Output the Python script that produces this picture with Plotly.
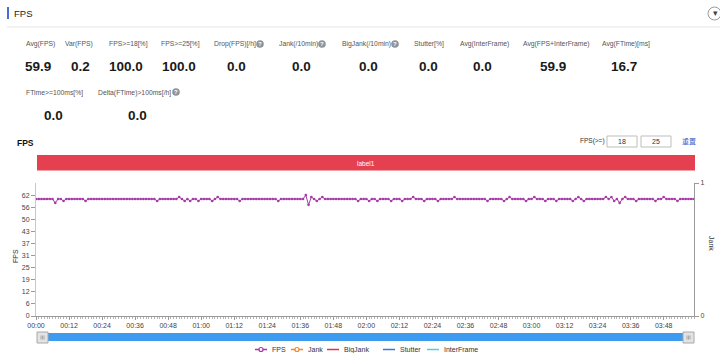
import plotly.graph_objects as go

# ---------------- data ----------------
seconds = list(range(240))
fps = [
    60, 60, 60, 60, 60, 60, 60, 58, 60, 60, 59, 60, 60, 60, 60, 60, 60, 60, 59, 60,
    60, 60, 60, 60, 60, 60, 60, 60, 60, 60, 60, 60, 60, 60, 60, 60, 60, 60, 60, 60,
    60, 60, 60, 60, 59, 60, 60, 60, 60, 60, 60, 60, 61, 60, 59, 60, 59, 60, 60, 59,
    60, 60, 60, 60, 59, 60, 61, 60, 60, 60, 60, 60, 60, 60, 59, 60, 60, 60, 60, 60,
    60, 60, 60, 60, 60, 60, 60, 60, 59, 60, 60, 60, 60, 60, 60, 60, 60, 60, 62, 57,
    61, 60, 59, 60, 61, 60, 60, 60, 60, 60, 60, 60, 60, 60, 60, 60, 60, 59, 60, 60,
    60, 59, 60, 60, 59, 60, 60, 60, 60, 59, 60, 60, 60, 59, 60, 60, 60, 61, 60, 60,
    60, 59, 60, 60, 60, 60, 59, 60, 60, 60, 60, 60, 61, 60, 60, 60, 60, 60, 60, 60,
    60, 60, 60, 60, 59, 60, 60, 60, 60, 60, 59, 60, 61, 60, 60, 60, 60, 60, 59, 60,
    60, 61, 60, 60, 60, 59, 60, 60, 60, 59, 60, 60, 60, 60, 60, 59, 60, 61, 60, 59,
    60, 60, 60, 60, 60, 60, 60, 61, 60, 61, 59, 60, 58, 60, 61, 60, 60, 60, 59, 60,
    60, 60, 60, 60, 60, 59, 60, 60, 61, 60, 60, 60, 60, 59, 60, 60, 60, 60, 60, 60,
]
x_tick_vals = [0, 12, 24, 36, 48, 60, 72, 84, 96, 108, 120, 132, 144, 156, 168, 180, 192, 204, 216, 228]
x_tick_text = ["00:00", "00:12", "00:24", "00:36", "00:48", "01:00", "01:12", "01:24", "01:36", "01:48",
               "02:00", "02:12", "02:24", "02:36", "02:48", "03:00", "03:12", "03:24", "03:36", "03:48"]
y_tick_vals = [0, 6.2, 12.4, 18.6, 24.8, 31, 37.2, 43.4, 49.6, 55.8, 62]
y_tick_text = ["0", "6", "12", "19", "25", "31", "37", "43", "50", "56", "62"]

series_names = ["FPS", "Jank", "BigJank", "Stutter", "InterFrame"]
series_colors = ["#a63aa6", "#f0892b", "#d9364d", "#3b78d8", "#52cfd8"]

stat_labels_1 = ["Avg(FPS)", "Var(FPS)", "FPS>=18[%]", "FPS>=25[%]", "Drop(FPS)[/h]", "Jank(/10min)",
                 "BigJank(/10min)", "Stutter[%]", "Avg(InterFrame)", "Avg(FPS+InterFrame)", "Avg(FTime)[ms]"]
stat_values_1 = ["59.9", "0.2", "100.0", "100.0", "0.0", "0.0", "0.0", "0.0", "0.0", "59.9", "16.7"]
stat_labels_2 = ["FTime>=100ms[%]", "Delta(FTime)>100ms[/h]"]
stat_values_2 = ["0.0", "0.0"]

# ---------------- layout helpers (pixel -> paper) ----------------
W, H = 720, 353
PL, PR, PT, PB = 36, 694, 183, 316


def px(x):
    return (x - PL) / (PR - PL)


def py(y):
    return (PB - y) / (PB - PT)


FONT = "Liberation Sans, Arial, Noto Sans CJK SC, sans-serif"
LBL = dict(family=FONT, size=6.8, color="#555555")
VAL = dict(family=FONT, size=13.5, color="#1a1a1a", weight="bold")

fig = go.Figure()

fig.add_trace(go.Scatter(
    x=seconds, y=fps, name=series_names[0], mode="lines+markers",
    line=dict(color=series_colors[0], width=1),
    marker=dict(color=series_colors[0], size=2.6),
))

annotations = []
shapes = []


def text(x, y, s, font, xanchor="left", angle=0):
    annotations.append(dict(x=px(x), y=py(y), xref="paper", yref="paper", text=s, showarrow=False,
                            xanchor=xanchor, yanchor="middle", font=font, textangle=angle))


def rect(x0, y0, x1, y1, fill, line=None, lw=0, typ="rect"):
    shapes.append(dict(type=typ, xref="paper", yref="paper", x0=px(x0), x1=px(x1), y0=py(y1), y1=py(y0),
                       fillcolor=fill, line=dict(color=line or fill, width=lw), layer="above"))


def hline(x0, x1, y, color, width=1):
    shapes.append(dict(type="line", xref="paper", yref="paper", x0=px(x0), x1=px(x1), y0=py(y), y1=py(y),
                       line=dict(color=color, width=width)))


# header
rect(7, 7, 9, 19, "#4a6bd6")
text(12, 13, "FPS", dict(family=FONT, size=9.5, color="#222222"))
hline(7, 720, 27, "#e6e6e6")
rect(708, 7, 721, 20, "#ffffff", "#9a9a9a", 1, "circle")
text(715, 13, "▾", dict(family=FONT, size=9, color="#444444"), "center")

# stats row 1
lab_x1 = [24, 63, 107, 159, 212, 277, 340, 412, 458, 521, 600]
val_x1 = [38, 80, 126, 179, 237, 301, 369, 428, 482, 553, 624]
for lx, vx, l, v in zip(lab_x1, val_x1, stat_labels_1, stat_values_1):
    text(lx, 44, l, LBL)
    text(vx, 66, v, VAL, "center")
# stats row 2
lab_x2 = [24, 96]
val_x2 = [53, 137]
for lx, vx, l, v in zip(lab_x2, val_x2, stat_labels_2, stat_values_2):
    text(lx, 93, l, LBL)
    text(vx, 115, v, VAL, "center")
# help icons
for hx, hy in [(260, 44), (322, 44), (395, 44), (176, 92)]:
    rect(hx - 3.8, hy - 3.8, hx + 3.8, hy + 3.8, "#8e939c", typ="circle")
    text(hx, hy, "?", dict(family=FONT, size=6, color="#ffffff", weight="bold"), "center")

# chart subtitle + controls
text(15, 143, "FPS", dict(family=FONT, size=8.5, color="#111111", weight="bold"))
text(578, 141, "FPS(>=)", dict(family=FONT, size=6.5, color="#333333"))
rect(607, 136, 637, 147, "#ffffff", "#bdbdbd", 1)
rect(641, 136, 671, 147, "#ffffff", "#bdbdbd", 1)
text(622, 141.5, "18", dict(family=FONT, size=7, color="#333333"), "center")
text(656, 141.5, "25", dict(family=FONT, size=7, color="#333333"), "center")
text(680, 141, "重置", dict(family="Noto Sans CJK SC", size=7, color="#3a5bd0"))

# label bar
rect(37, 155, 695, 170.5, "#e5404f")
text(366, 163, "label1", dict(family=FONT, size=6.5, color="#ffffff"), "center")

# axis titles
text(15, 256, "FPS", dict(family=FONT, size=7, color="#333333"), "center", -90)
text(712, 243, "Jank", dict(family=FONT, size=7, color="#333333"), "center", 90)

# data zoom slider
rect(42, 333, 690, 341, "#3d9cf0")
for hx0, hx1 in [(37, 48), (683, 694)]:
    rect(hx0, 332, hx1, 343, "#e3e3e3", "#a8a8a8", 1)
    for d in (-1.5, 0, 1.5):
        cx = (hx0 + hx1) / 2 + d
        shapes.append(dict(type="line", xref="paper", yref="paper", x0=px(cx), x1=px(cx),
                           y0=py(335.5), y1=py(339.5), line=dict(color="#999999", width=0.8)))

# legend (drawn manually to match compact layout)
LEG_Y = 349.5
leg_sym_x = [255, 291, 327, 383, 427]
for i, (name, color) in enumerate(zip(series_names, series_colors)):
    sx = leg_sym_x[i]
    hline(sx, sx + 12, LEG_Y, color, 1.5)
    if i < 2:
        rect(sx + 4, LEG_Y - 2, sx + 8, LEG_Y + 2, "#ffffff", color, 1.2, "circle")
    text(sx + 15, LEG_Y, name, dict(family=FONT, size=7, color="#333333"))

fig.update_layout(
    width=W, height=H,
    margin=dict(l=PL, r=W - PR, t=PT, b=H - PB, pad=0, autoexpand=False),
    paper_bgcolor="white", plot_bgcolor="white",
    font=dict(family=FONT, size=7, color="#333333"),
    showlegend=False,
    xaxis=dict(range=[0, 239], tickvals=x_tick_vals, ticktext=x_tick_text, showgrid=False, zeroline=False,
               showline=True, linecolor="#9a9a9a", linewidth=1, ticks="outside", ticklen=3,
               tickcolor="#9a9a9a", tickfont=dict(size=7, color="#444444"),
               minor=dict(dtick=1, tick0=0, ticks="outside", ticklen=1.5, tickcolor="#b5b5b5")),
    yaxis=dict(range=[0, 68.2], tickvals=y_tick_vals, ticktext=y_tick_text, showgrid=False, zeroline=False,
               showline=True, linecolor="#c8c8c8", linewidth=1, ticks="outside", ticklen=4,
               tickcolor="#9a9a9a", tickfont=dict(size=7, color="#444444")),
    yaxis2=dict(range=[0, 1], tickvals=[0, 1], ticktext=["0", "1"], overlaying="y", side="right",
                showgrid=False, zeroline=False, showline=True, linecolor="#9a9a9a", linewidth=1,
                ticks="outside", ticklen=4, tickcolor="#9a9a9a", tickfont=dict(size=7, color="#444444")),
    annotations=annotations,
    shapes=shapes,
)

# empty right-axis series (Jank etc. have no events in this run)
for name, color in zip(series_names[1:], series_colors[1:]):
    fig.add_trace(go.Scatter(x=[None], y=[None], name=name, mode="lines", yaxis="y2",
                             line=dict(color=color, width=1.2), showlegend=False))

fig.write_html("out.html")
